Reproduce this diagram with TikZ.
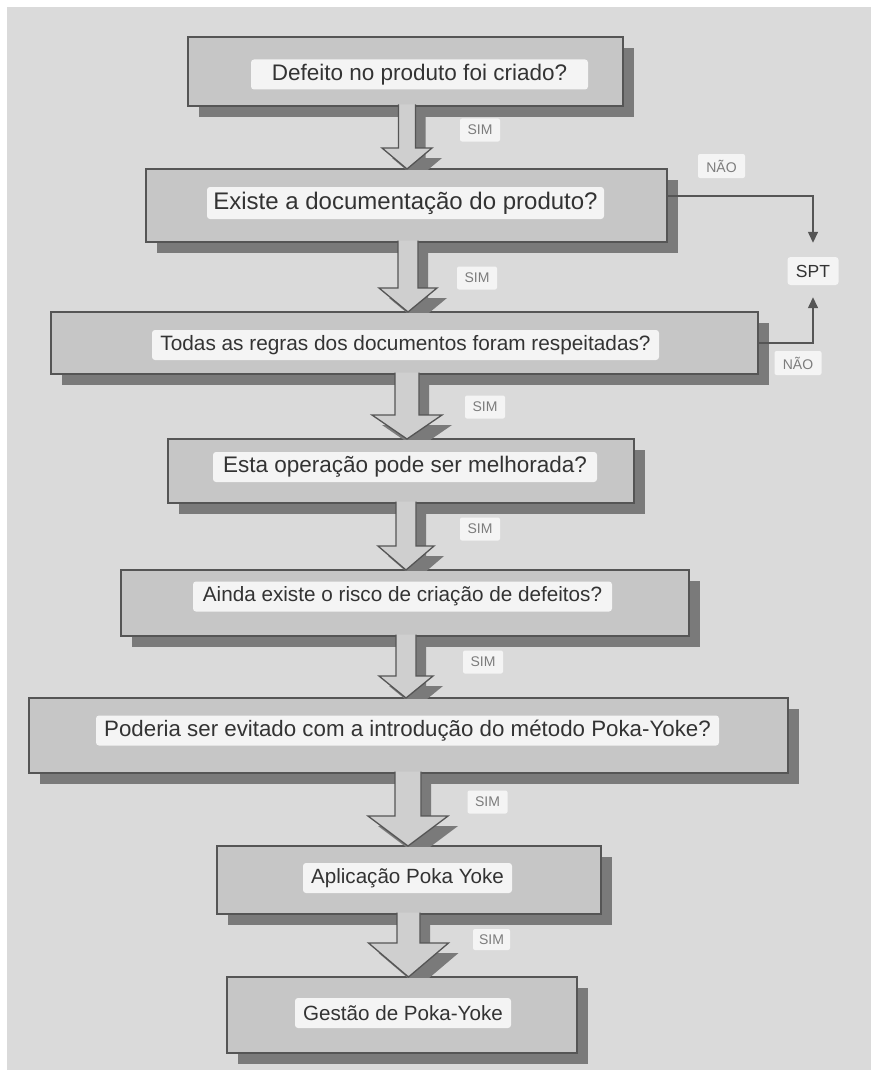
\documentclass[tikz,border=0pt]{standalone}
\usepackage{fontspec}
\setmainfont{Liberation Sans}
\usetikzlibrary{calc, arrows.meta, shadows}
\definecolor{pagegray}{HTML}{DADADA}
\definecolor{boxgray}{HTML}{C6C6C6}
\definecolor{edgegray}{HTML}{555555}
\definecolor{shadegray}{HTML}{7A7A7A}
\definecolor{arrowgray}{HTML}{CFCFCF}
\definecolor{labelwhite}{HTML}{F4F4F4}
\definecolor{textdark}{HTML}{333333}
\definecolor{textsoft}{HTML}{7C7C7C}

\newcommand{\fsz}[1]{\fontsize{#1}{#1}\selectfont}

% block arrow: from box, to box, axis x, shaft half width, head half width, head length
\newcommand{\blockarrow}[6]{%
  \begin{scope}
    \coordinate (ax) at (#3,0);
    \clip ($(#1.south -| edgeL)+(0,-2)$) rectangle (#2.north -| edgeR);
    \coordinate (s) at ($(#1.south -| ax)+(0,-1.5)$);
    \coordinate (t) at (#2.north -| ax);
    \fill[arrowbody] ($(s)+(-#4,0)$) -- ($(t)+(-#4,-#6)$) -- ($(t)+(-#5,-#6)$) -- (t)
      -- ($(t)+(#5,-#6)$) -- ($(t)+(#4,-#6)$) -- ($(s)+(#4,0)$) -- cycle;
    \draw[arrowline] ($(s)+(-#4,0)$) -- ($(t)+(-#4,-#6)$) -- ($(t)+(-#5,-#6)$) -- (t)
      -- ($(t)+(#5,-#6)$) -- ($(t)+(#4,-#6)$) -- ($(s)+(#4,0)$);
  \end{scope}}

\begin{document}
\begin{tikzpicture}[
    x=1pt, y=-1pt,
    box/.style={draw=edgegray, line width=1.6pt, fill=boxgray, outer sep=0pt,
                inner sep=0pt,
                drop shadow={shadow xshift=11pt, shadow yshift=-11pt,
                             fill=shadegray, opacity=1}},
    qtext/.style={fill=labelwhite, rounded corners=3pt, text=textdark,
                  inner sep=0pt, minimum height=30pt},
    simtag/.style={fill=labelwhite, rounded corners=2pt, text=textsoft,
                   inner sep=0pt, minimum width=40pt, minimum height=23pt,
                   font=\fsz{14}},
    naotag/.style={simtag, minimum width=47pt, minimum height=24pt},
    spttag/.style={fill=labelwhite, rounded corners=3pt, text=textdark,
                   inner sep=0pt, minimum width=51pt, minimum height=28pt,
                   font=\fsz{17.5}},
    arrowbody/.style={fill=arrowgray,
                      drop shadow={shadow xshift=10pt, shadow yshift=-10pt,
                                   fill=shadegray, opacity=1}},
    arrowline/.style={draw=edgegray, line width=1.3pt, line join=miter},
    link/.style={draw=edgegray, line width=1.4pt,
                 -{Triangle[length=11pt, width=10pt]}}
]
    \fill[white] (0,0) rectangle (871,1070);
    \fill[pagegray] (7,7) rectangle (871,1070);
    \useasboundingbox (0,0) rectangle (871,1070);
    \coordinate (edgeL) at (0,0);
    \coordinate (edgeR) at (871,0);

    % Boxes
    \node[box, minimum width=435pt, minimum height=69pt] (b1) at (405.5,71.5) {};
    \node[box, minimum width=521pt, minimum height=73pt] (b2) at (406.5,205.5) {};
    \node[box, minimum width=707pt, minimum height=62pt] (b3) at (404.5,343) {};
    \node[box, minimum width=466pt, minimum height=64pt] (b4) at (401,471) {};
    \node[box, minimum width=568pt, minimum height=66pt] (b5) at (405,603) {};
    \node[box, minimum width=759pt, minimum height=75pt] (b6) at (408.5,735.5) {};
    \node[box, minimum width=384pt, minimum height=68pt] (b7) at (409,880) {};
    \node[box, minimum width=350pt, minimum height=76pt] (b8) at (402,1015) {};

    % Block arrows
    \blockarrow{b1}{b2}{407}{8.5}{25}{21}
    \blockarrow{b2}{b3}{408}{10}{29}{24}
    \blockarrow{b3}{b4}{407}{12}{35}{24}
    \blockarrow{b4}{b5}{406}{10}{28}{24}
    \blockarrow{b5}{b6}{406}{10}{27}{22}
    \blockarrow{b6}{b7}{408}{13}{40}{30}
    \blockarrow{b7}{b8}{408.5}{11.5}{40}{34}

    % Questions
    \node[qtext, minimum width=337pt, font=\fsz{22.5}] (q1) at (419.5,74.5) {Defeito no produto foi criado?};
    \node[qtext, minimum width=397pt, minimum height=32pt, font=\fsz{24}] (q2) at (405.5,203) {Existe a documentação do produto?};
    \node[qtext, minimum width=507pt, font=\fsz{20.8}] (q3) at (405.5,345) {Todas as regras dos documentos foram respeitadas?};
    \node[qtext, minimum width=384pt, font=\fsz{22.5}] (q4) at (405,467) {Esta operação pode ser melhorada?};
    \node[qtext, minimum width=419pt, font=\fsz{20.7}] (q5) at (402.5,596.5) {Ainda existe o risco de criação de defeitos?};
    \node[qtext, minimum width=623pt, font=\fsz{22.3}] (q6) at (407.5,730.5) {Poderia ser evitado com a introdução do método Poka-Yoke?};
    \node[qtext, minimum width=209pt, font=\fsz{20.6}] (q7) at (407.5,878) {Aplicação Poka Yoke};
    \node[qtext, minimum width=216pt, font=\fsz{20.6}] (q8) at (403,1013) {Gestão de Poka-Yoke};

    % SIM tags
    \node[simtag] (s1) at (480,130) {SIM};
    \node[simtag] (s2) at (477,278) {SIM};
    \node[simtag] (s3) at (485,407) {SIM};
    \node[simtag] (s4) at (480,529) {SIM};
    \node[simtag] (s5) at (483,662) {SIM};
    \node[simtag] (s6) at (487.5,802) {SIM};
    \node[simtag, minimum width=37pt, minimum height=21pt] (s7) at (491.5,939.5) {SIM};

    % SPT branch
    \node[spttag] (spt) at (813,271) {SPT};
    \node[naotag] (n1) at (721.5,166) {NÃO};
    \node[naotag] (n2) at (798,363) {NÃO};
    \draw[link, shorten >=14pt] ($(b2.east)+(0,-9.5)$) -| (spt.north);
    \draw[link, shorten >=12pt] (b3.east) -| (spt.south);
\end{tikzpicture}
\end{document}
